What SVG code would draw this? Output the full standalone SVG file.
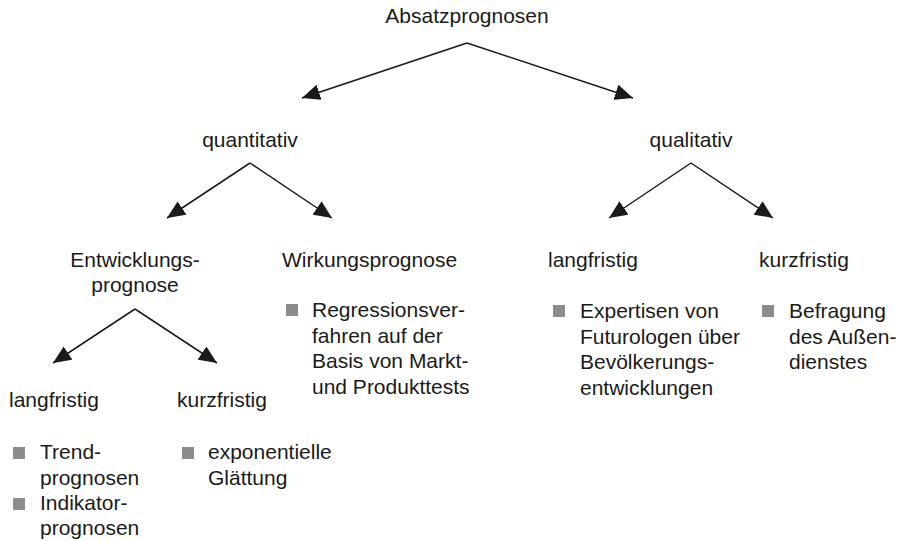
<svg xmlns="http://www.w3.org/2000/svg" width="901" height="541" viewBox="0 0 901 541">
<style>
text{font-family:"Liberation Sans",Arial,sans-serif;font-size:21px;fill:#1a1a1a}
.c{text-anchor:middle}
.b{fill:#8c8c8c}
.e{stroke:#1a1a1a;stroke-width:1.5;fill:none;marker-end:url(#ah)}
</style>
<defs>
<marker id="ah" markerUnits="userSpaceOnUse" markerWidth="19" markerHeight="16" refX="18" refY="8" orient="auto">
<path d="M0,0 L18,8 L0,16 z" fill="#1a1a1a"/>
</marker>
</defs>
<rect width="901" height="541" fill="#fff"/>
<g id="connectors">
<path class="e" d="M467,43 L302,98"/>
<path class="e" d="M467,43 L633,98"/>
<path class="e" d="M250,163 L167,218"/>
<path class="e" d="M250,163 L332,218"/>
<path class="e" d="M691,163 L609,218"/>
<path class="e" d="M691,163 L773,218"/>
<path class="e" d="M135,309 L53,363"/>
<path class="e" d="M135,309 L217,363"/>
</g>
<g id="root"><text class="c" x="467" y="23">Absatzprognosen</text></g>
<g id="quantitativ"><text class="c" x="250" y="147">quantitativ</text></g>
<g id="qualitativ"><text class="c" x="691" y="147">qualitativ</text></g>
<g id="entwicklungsprognose"><text class="c" x="135" y="267">Entwicklungs-</text><text class="c" x="135" y="292">prognose</text></g>
<g id="wirkungsprognose"><text x="282" y="267">Wirkungsprognose</text>
<rect class="b" x="286" y="304" width="12" height="12"/>
<text x="312" y="317">Regressionsver-</text><text x="312" y="342.5">fahren auf der</text><text x="312" y="368">Basis von Markt-</text><text x="312" y="393.5">und Produkttests</text></g>
<g id="langfristig-links"><text x="9" y="407">langfristig</text>
<rect class="b" x="13" y="447" width="12" height="12"/>
<text x="40" y="459">Trend-</text><text x="40" y="485">prognosen</text>
<rect class="b" x="13" y="498" width="12" height="12"/>
<text x="40" y="510">Indikator-</text><text x="40" y="535">prognosen</text></g>
<g id="kurzfristig-links"><text x="177" y="407">kurzfristig</text>
<rect class="b" x="182" y="447" width="12" height="12"/>
<text x="208" y="459">exponentielle</text><text x="208" y="485">Glättung</text></g>
<g id="langfristig-rechts"><text x="548" y="267">langfristig</text>
<rect class="b" x="553" y="305" width="12" height="12"/>
<text x="580" y="318">Expertisen von</text><text x="580" y="343.5">Futurologen über</text><text x="580" y="369">Bevölkerungs-</text><text x="580" y="394.5">entwicklungen</text></g>
<g id="kurzfristig-rechts"><text x="759" y="267">kurzfristig</text>
<rect class="b" x="762" y="305" width="12" height="12"/>
<text x="789" y="318">Befragung</text><text x="789" y="343.5">des Außen-</text><text x="789" y="369">dienstes</text></g>
</svg>
